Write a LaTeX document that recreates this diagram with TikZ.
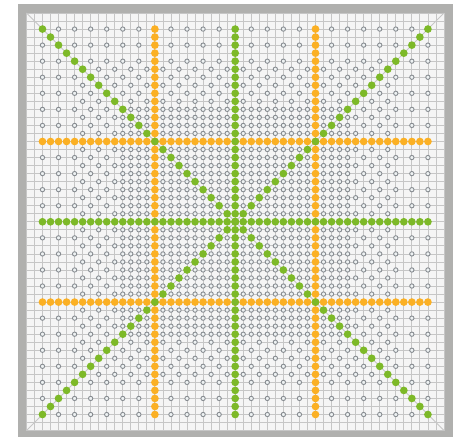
\documentclass[tikz,border=0pt]{standalone}
\definecolor{framegray}{HTML}{B0B0AE}
\definecolor{bggray}{HTML}{F5F5F5}
\definecolor{gridgray}{HTML}{C6C6C6}
\definecolor{circstroke}{HTML}{878C91}
\definecolor{circfill}{HTML}{EEF2F3}
\definecolor{dotgreen}{HTML}{7DB928}
\definecolor{dotorange}{HTML}{FBB024}
\begin{document}
\begin{tikzpicture}[x=8.03pt,y=-8.03pt,
  gridline/.style={draw=gridgray,line width=0.8pt},
  diagline/.style={draw=gridgray,line width=0.9pt},
  samplecircle/.style={draw=circstroke,fill=circfill,line width=0.9pt},
  greendot/.style={fill=dotgreen},
  orangedot/.style={fill=dotorange}]
\useasboundingbox (-29.29,-27.62) rectangle (28.12,26.80);
\clip (-29.29,-27.62) rectangle (28.12,26.80);
% frame and panel
\fill[framegray] (-27.1,-27.1) rectangle (27.1,27.1);
\fill[bggray] (-26,-26) rectangle (26,26);
% grid lines
\foreach \k in {-26,...,26} {
  \draw[gridline] (\k,-26) -- (\k,26);
  \draw[gridline] (-26,\k) -- (26,\k);
}
\draw[diagline] (-26,-26) -- (26,26);
\draw[diagline] (-26,26) -- (26,-26);
% sample circles
\foreach \i in {-24,...,24} {
  \foreach \j in {-24,...,24} {
    \pgfmathtruncatemacro{\m}{max(abs(\i),abs(\j))}
    \pgfmathtruncatemacro{\p}{mod(abs(\i),2)+mod(abs(\j),2)}
    \pgfmathtruncatemacro{\shw}{((\p==0) || ((\p==2) && (\m<=19)) || ((\p==1) && (\m<=14))) ? 1 : 0}
    \ifnum\shw=1 \draw[samplecircle] (\i,\j) circle[radius=0.27];\fi
  }
}
% orange lines of dots
\foreach \k in {-24,...,24} {
  \fill[orangedot] (\k,-10) circle[radius=0.48];
  \fill[orangedot] (\k,10) circle[radius=0.48];
  \fill[orangedot] (-10,\k) circle[radius=0.48];
  \fill[orangedot] (10,\k) circle[radius=0.48];
}
% green lines of dots
\foreach \k in {-24,...,24} {
  \fill[greendot] (\k,0) circle[radius=0.48];
  \fill[greendot] (0,\k) circle[radius=0.48];
  \fill[greendot] (\k,\k) circle[radius=0.48];
  \fill[greendot] (\k,-\k) circle[radius=0.48];
}
\end{tikzpicture}
\end{document}
